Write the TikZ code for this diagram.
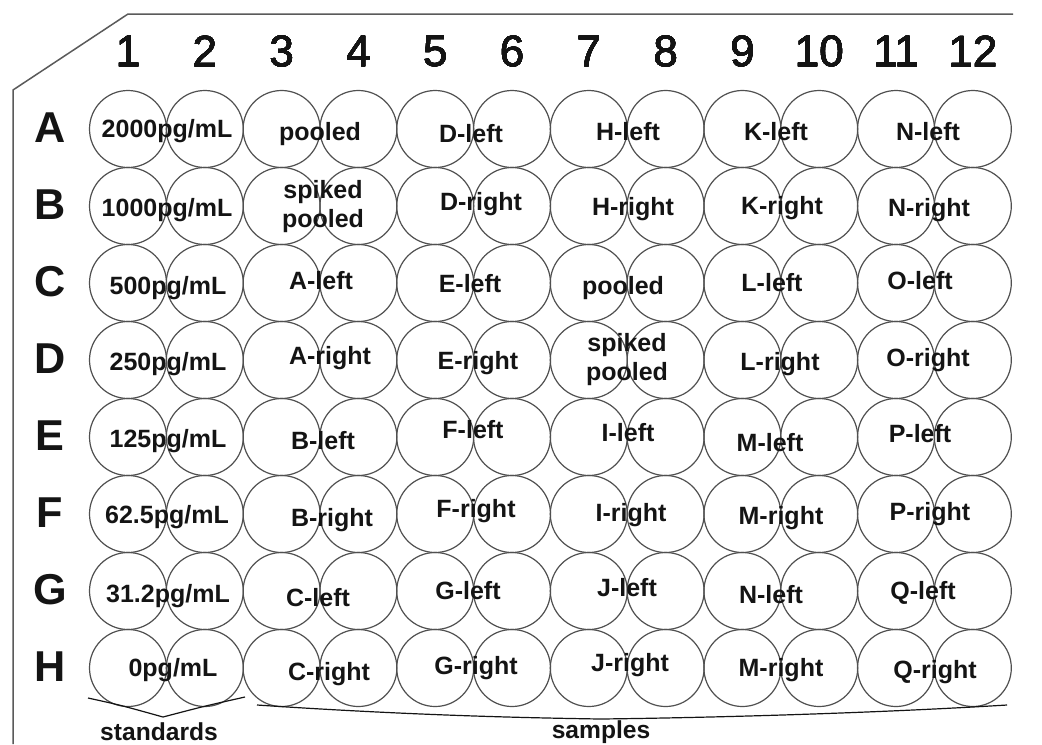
\documentclass[tikz,border=0pt]{standalone}
\usepackage{fontspec}
\setmainfont{Liberation Sans}
\newfontfamily\numfont{Liberation Sans}[FakeBold=0.7]
\usetikzlibrary{positioning}
\definecolor{wellgray}{RGB}{80,80,80}
\definecolor{rimgray}{RGB}{90,90,90}
\definecolor{inkblack}{RGB}{20,20,20}
\tikzset{
  wellline/.style={draw=wellgray,line width=0.6pt},
  rimline/.style={draw=rimgray,line width=0.75pt},
  braceline/.style={draw=inkblack,line width=0.6pt},
  welllabel/.style={font=\fontsize{12.5}{13}\selectfont\bfseries,text=inkblack,anchor=base,inner sep=0pt},
  twoline/.style={font=\fontsize{12.5}{14.5}\selectfont\bfseries,text=inkblack,align=center,inner sep=0pt},
  rowlet/.style={font=\fontsize{21.6}{22}\selectfont\bfseries,text=inkblack,inner sep=0pt},
  colnum/.style={font=\fontsize{22}{22}\selectfont\numfont,text=inkblack,inner sep=0pt},
  bracetext/.style={font=\fontsize{12.3}{13}\selectfont\bfseries,text=inkblack,anchor=base,inner sep=0pt}
}
\newcommand{\wellrow}[1]{\foreach \c in {0,...,11} \draw[wellline] (128+76.8*\c,#1) circle (38.5);}
\newcommand{\welltext}[3]{\node[welllabel] (#1) at #2 {#3};}

\begin{document}
\begin{tikzpicture}[x=0.5pt,y=-0.5pt]
\useasboundingbox[fill=white] (0,0) rectangle (1042,744);
% plate rim
\draw[rimline] (1013,14) -- (128,14) -- (13,90) -- (13,744);
% wells
\foreach \r in {0,...,7} \wellrow{129+77*\r}
% column numbers and row letters
\foreach \n [count=\i from 0] in {1,...,12} \node[colnum] (col\n) at (128+76.8*\i,51) {\n};
\foreach \l [count=\i from 0] in {A,...,H} \node[rowlet] (row\l) at (50,128+77*\i) {\l};
% row A
\welltext{stdA}{(167,137)}{2000pg/mL} \welltext{smpA3}{(320,140)}{pooled} \welltext{smpA5}{(471,142)}{D-left}
\welltext{smpA7}{(628,140)}{H-left} \welltext{smpA9}{(776,140)}{K-left} \welltext{smpA11}{(928,140)}{N-left}
% row B
\welltext{stdB}{(167,216)}{1000pg/mL} \node[twoline] (smpB3) at (323,207) {spiked\\pooled}; \welltext{smpB5}{(481,210)}{D-right}
\welltext{smpB7}{(633,215)}{H-right} \welltext{smpB9}{(782,214)}{K-right} \welltext{smpB11}{(929,216)}{N-right}
% row C
\welltext{stdC}{(168,294)}{500pg/mL} \welltext{smpC3}{(321,289)}{A-left} \welltext{smpC5}{(470,292)}{E-left}
\welltext{smpC7}{(623,294)}{pooled} \welltext{smpC9}{(772,291)}{L-left} \welltext{smpC11}{(920,289)}{O-left}
% row D
\welltext{stdD}{(168,370)}{250pg/mL} \welltext{smpD3}{(330,364)}{A-right} \welltext{smpD5}{(478,369)}{E-right}
\node[twoline] (smpD7) at (627,360) {spiked\\pooled}; \welltext{smpD9}{(780,370)}{L-right} \welltext{smpD11}{(928,366)}{O-right}
% row E
\welltext{stdE}{(168,447)}{125pg/mL} \welltext{smpE3}{(323,449)}{B-left} \welltext{smpE5}{(473,438)}{F-left}
\welltext{smpE7}{(628,441)}{I-left} \welltext{smpE9}{(770,451)}{M-left} \welltext{smpE11}{(920,442)}{P-left}
% row F
\welltext{stdF}{(167,523)}{62.5pg/mL} \welltext{smpF3}{(332,526)}{B-right} \welltext{smpF5}{(476,517)}{F-right}
\welltext{smpF7}{(631,521)}{I-right} \welltext{smpF9}{(781,524)}{M-right} \welltext{smpF11}{(930,520)}{P-right}
% row G
\welltext{stdG}{(168,602)}{31.2pg/mL} \welltext{smpG3}{(318,606)}{C-left} \welltext{smpG5}{(468,599)}{G-left}
\welltext{smpG7}{(627,596)}{J-left} \welltext{smpG9}{(771,603)}{N-left} \welltext{smpG11}{(923,599)}{Q-left}
% row H
\welltext{stdH}{(173,676)}{0pg/mL} \welltext{smpH3}{(329,680)}{C-right} \welltext{smpH5}{(476,674)}{G-right}
\welltext{smpH7}{(630,671)}{J-right} \welltext{smpH9}{(781,676)}{M-right} \welltext{smpH11}{(935,678)}{Q-right}
% braces
\coordinate (stdL) at (88,698); \coordinate (stdtip) at (163,717); \coordinate (stdR) at (245,697);
\draw[braceline] (stdL) .. controls (120,705) .. (stdtip) .. controls (205,706) .. (stdR);
\coordinate (smpL) at (257,705); \coordinate (smptip) at (600,719); \coordinate (smpR) at (1007,705);
\draw[braceline] (smpL) .. controls (420,716) and (540,718) .. (smptip) .. controls (690,718) and (860,714) .. (smpR);
\node[bracetext] (stdname) at (159,740) {standards};
\node[bracetext] (smpname) at (601,738) {samples};
\end{tikzpicture}
\end{document}
